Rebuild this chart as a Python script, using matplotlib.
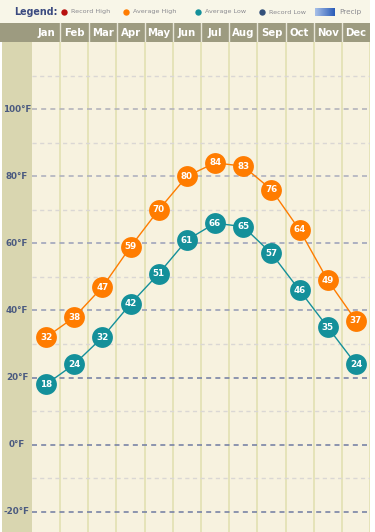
import numpy as np
import matplotlib.pyplot as plt
from matplotlib.patches import Rectangle
from matplotlib.colors import LinearSegmentedColormap

# данные графика
months = ['Jan', 'Feb', 'Mar', 'Apr', 'May', 'Jun', 'Jul', 'Aug', 'Sep', 'Oct', 'Nov', 'Dec']
avg_high = [32, 38, 47, 59, 70, 80, 84, 83, 76, 64, 49, 37]
avg_low = [18, 24, 32, 42, 51, 61, 66, 65, 57, 46, 35, 24]
major_ticks = [100, 80, 60, 40, 20, 0, -20]
minor_ticks = [110, 90, 70, 50, 30, 10, -10]
legend_items = ['Record High', 'Average High', 'Average Low', 'Record Low']

W, H = 375, 532
fig = plt.figure(figsize=(W / 100, H / 100), dpi=100)
fig.patch.set_facecolor('white')

def fx(px):
    return px / W

def fy(py):
    return 1 - py / H

# фон: легенда и левая колонка
bg = fig.add_axes([0, 0, 1, 1], zorder=0)
bg.set_xlim(0, W)
bg.set_ylim(H, 0)
bg.axis('off')
bg.add_patch(Rectangle((0, 0), 370, 23, facecolor='#f8f6e8', edgecolor='none'))
bg.add_patch(Rectangle((2, 42), 30, H - 42, facecolor='#d9d6b0', edgecolor='none'))

# основная область
ax = fig.add_axes([fx(32), 0, fx(338), fy(42)], zorder=1)
ax.set_facecolor('#f7f2df')
ax.set_xlim(-0.5, 11.5)
ax.set_ylim(-26, 120)
for s in ax.spines.values():
    s.set_visible(False)
ax.set_xticks([])
ax.set_yticks([])

for i in range(12):
    ax.axvline(i + 0.5, color='#e4e2b6', lw=1.3, zorder=1)

major_colors = ['#b4b4bc', '#b0b2bf', '#a0a5bb', '#9aa0b8', '#7a84a6', '#7a84a6', '#7a84a6']
for v, c in zip(major_ticks, major_colors):
    ax.axhline(v, color=c, lw=1.2, ls=(0, (3, 2.5)), zorder=1)
for v in minor_ticks:
    ax.axhline(v, color='#dad7d4', lw=1.0, ls=(0, (3, 2.5)), zorder=1)

x = np.arange(12)
series = [(avg_high, '#ff7c00'), (avg_low, '#14909a')]
for vals, col in series:
    ax.plot(x, vals, color=col, lw=1.0, zorder=2)
    ax.plot(x, vals, 'o', color=col, ms=15, mec='none', zorder=3, clip_on=False)
    for xi, v in zip(x, vals):
        ax.text(xi, v, str(v), color='white', fontsize=6.3, fontweight='bold',
                ha='center', va='center', zorder=4, clip_on=False)

# подписи оси Y
for v in major_ticks:
    yp = ax.transData.transform((0, v))[1] / fig.bbox.height
    fig.text(fx(17), yp, f'{v}°F', color='#4a5a80', fontsize=6.3, fontweight='bold',
             ha='center', va='center', zorder=5)

# шапка с месяцами
hx = fig.add_axes([0, fy(42), fx(370), 19 / H], zorder=2)
hx.set_facecolor('#9d9b80')
hx.set_xlim(-1.65, 11.5)
hx.set_ylim(0, 1)
hx.set_xticks([])
hx.set_yticks([])
for s in hx.spines.values():
    s.set_visible(False)
for i, m in enumerate(months):
    hx.text(i, 0.5, m, color='white', fontsize=7.3, fontweight='bold',
            ha='center', va='center')
    if i < 11:
        hx.axvline(i + 0.5, color='#e8e6d8', lw=1.0)

# легенда
lg = fig.add_axes([0, 0, 1, 1], zorder=3)
lg.set_xlim(0, W)
lg.set_ylim(H, 0)
lg.axis('off')
lg.text(14, 12, 'Legend:', color='#3b4a80', fontsize=6.9, fontweight='bold',
        ha='left', va='center')
dot_cols = ['#b8100e', '#ff7c00', '#14909a', '#33507a']
dot_x = [64, 126, 198, 262]
for px, c, lab in zip(dot_x, dot_cols, legend_items):
    lg.plot(px, 12, 'o', color=c, ms=4.6, mec='none')
    lg.text(px + 7, 12, lab, color='#8a8a90', fontsize=4.6, ha='left', va='center')
grad = np.linspace(0, 1, 50).reshape(1, -1)
cmap = LinearSegmentedColormap.from_list('p', ['#a8c0e8', '#2a5cb8'])
lg.imshow(grad, cmap=cmap, aspect='auto', extent=(315, 335, 16, 8))
lg.set_xlim(0, W)
lg.set_ylim(H, 0)
lg.text(339, 12, 'Precip', color='#8a8a90', fontsize=5.2, ha='left', va='center')

fig.savefig('out.png', dpi=100)
